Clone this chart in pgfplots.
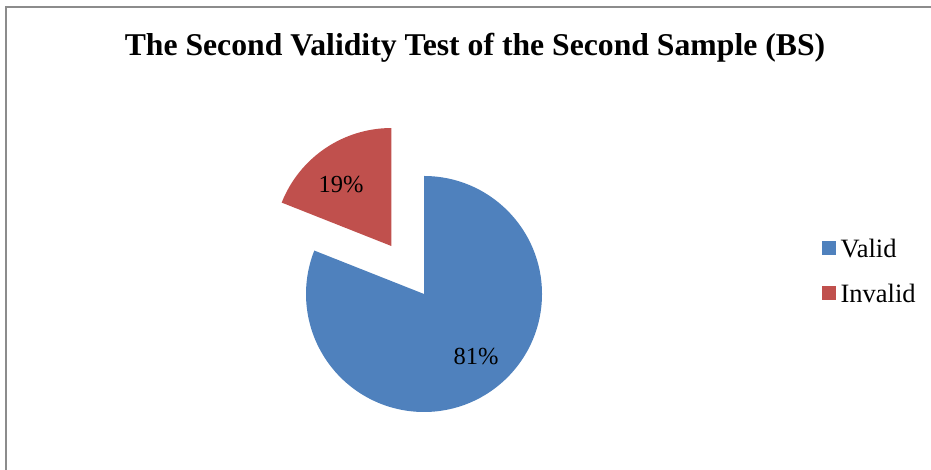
\documentclass[border=0pt]{standalone}
\usepackage{pgfplots}
\pgfplotsset{compat=1.18}
\usepackage{pgfplotstable}
\usepackage{fontspec}
\setmainfont{Liberation Serif}
\definecolor{validblue}{RGB}{79,129,189}
\definecolor{invalidred}{RGB}{192,80,77}
\definecolor{framegray}{RGB}{140,140,140}
\pgfplotstableread{
label value
Valid 81
Invalid 19
}\piedata
\begin{document}
\begin{tikzpicture}
\useasboundingbox (0,0) rectangle (931pt,470pt);
\pgfplotstablegetelem{0}{value}\of\piedata \let\valA\pgfplotsretval
\pgfplotstablegetelem{1}{value}\of\piedata \let\valB\pgfplotsretval
\pgfmathsetmacro\endA{90-3.6*\valA}
\pgfmathsetmacro\endB{90+3.6*\valB}
\pgfmathsetmacro\midB{90+1.8*\valB}
\begin{axis}[at={(0,0)}, anchor=south west, scale only axis,
  width=931pt, height=470pt, xmin=0, xmax=931, ymin=0, ymax=470,
  hide axis, clip=false,
  legend cell align=left,
  legend image code/.code={\fill[#1] (0pt,-5pt) rectangle (13pt,8pt);},
  legend style={draw=none, fill=none, at={(axis cs:822,233)}, anchor=north west,
    font=\fontsize{26.5}{30}\selectfont, row sep=21pt, column sep=3pt, inner sep=0pt,
    nodes={inner sep=2pt}},
]
\addlegendimage{validblue}
\addlegendentry{Valid}
\addlegendimage{invalidred}
\addlegendentry{Invalid}
\fill[validblue] (axis cs:424,176) -- ++(90:118pt) arc[start angle=90, end angle=\endA, radius=118pt] -- cycle;
\fill[invalidred, shift={(\midB:58pt)}] (axis cs:424,176) -- ++(90:118pt) arc[start angle=90, end angle=\endB, radius=118pt] -- cycle;
\node[font=\fontsize{24.5}{28}\selectfont] at (axis cs:476,113) {81\%};
\node[font=\fontsize{24.5}{28}\selectfont] at (axis cs:341,285) {19\%};
\node[font=\bfseries\fontsize{31.7}{36}\selectfont] at (axis cs:475,422) {The Second Validity Test of the Second Sample (BS)};
\draw[framegray, line width=1.5pt] (axis cs:6,0) -- (axis cs:6,463) -- (axis cs:931,463);
\end{axis}
\end{tikzpicture}
\end{document}
